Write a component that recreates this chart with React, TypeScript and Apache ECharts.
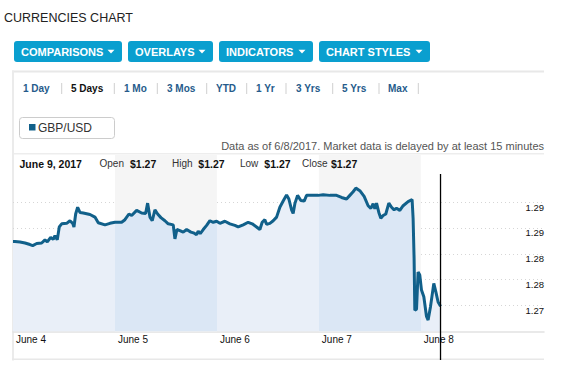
import React, { useEffect, useRef } from "react";
import * as echarts from "echarts";

// ---- data (hours since June 4 00:00, GBP/USD rate) ----
const hours = [
  0.0, 0.47, 1.65, 2.82, 4.0, 4.64, 5.58, 6.75, 7.53, 8.07, 8.87, 9.48, 9.88, 10.42, 10.89, 11.46, 12.64, 13.41, 14.05, 14.35,
  14.75, 15.22, 15.76, 16.54, 18.12, 19.29, 20.07, 21.65, 22.82, 24.0, 25.58, 26.35, 27.29, 27.93, 29.11, 30.28, 31.22, 31.69,
  32.24, 32.78, 33.41, 34.05, 34.82, 35.76, 36.54, 37.72, 38.12, 38.59, 39.29, 40.07, 40.87, 41.88, 42.66, 43.22, 43.6, 44.07,
  44.78, 45.58, 46.35, 47.13, 47.93, 48.71, 49.88, 51.06, 52.24, 53.01, 54.19, 55.36, 56.31, 57.34, 58.12, 58.66, 59.29, 59.69,
  60.47, 61.25, 62.05, 62.82, 63.6, 64.4, 64.94, 65.58, 65.95, 66.35, 66.99, 67.76, 68.54, 69.11, 70.66, 71.84, 73.01, 74.59,
  76.16, 77.34, 78.52, 79.29, 80.07, 80.71, 81.65, 82.66, 83.6, 84.24, 84.78, 85.18, 85.58, 86.12, 86.59, 87.13, 87.76, 88.47,
  89.11, 89.72, 90.28, 91.06, 91.84, 93.01, 93.95, 94.19, 94.42, 94.59, 94.99, 95.36, 95.76, 96.16, 96.71, 97.34, 97.72, 98.28,
  99.06, 99.53, 100.07, 100.64,
];
const rates = [
  1.2849, 1.2849, 1.2848, 1.2846, 1.2843, 1.2841, 1.2845, 1.2846, 1.2852, 1.2848, 1.2857, 1.2853, 1.286, 1.2852, 1.2877, 1.2883,
  1.2884, 1.2889, 1.2884, 1.2877, 1.2902, 1.2915, 1.2905, 1.2904, 1.2901, 1.2896, 1.2885, 1.2881, 1.2884, 1.2886, 1.2886, 1.2891,
  1.2902, 1.2899, 1.2909, 1.2904, 1.2903, 1.2923, 1.2896, 1.2889, 1.291, 1.2902, 1.2895, 1.2889, 1.2883, 1.2881, 1.2854, 1.2872,
  1.287, 1.2867, 1.2872, 1.2867, 1.2865, 1.2862, 1.2869, 1.2864, 1.2872, 1.288, 1.2889, 1.2886, 1.2888, 1.2884, 1.2888, 1.2883,
  1.288, 1.2877, 1.2881, 1.2886, 1.2883, 1.2877, 1.2872, 1.2886, 1.2891, 1.2882, 1.2884, 1.2889, 1.2896, 1.2915, 1.2927, 1.2939,
  1.2931, 1.291, 1.2903, 1.2922, 1.2938, 1.2928, 1.2927, 1.2938, 1.2938, 1.2938, 1.2939, 1.2938, 1.2938, 1.2934, 1.2931, 1.2938,
  1.2945, 1.2952, 1.2947, 1.2936, 1.2918, 1.2913, 1.2922, 1.2912, 1.2923, 1.2905, 1.2894, 1.2899, 1.2902, 1.2923, 1.2915, 1.291,
  1.2913, 1.2909, 1.2918, 1.2926, 1.293, 1.2893, 1.2816, 1.2716, 1.2718, 1.279, 1.2784, 1.2755, 1.2742, 1.2704, 1.2697, 1.2723,
  1.2768, 1.2752, 1.2732, 1.2724,
];
const dayLabels = ["June 4", "June 5", "June 6", "June 7", "June 8"];
const shadedDays = [1, 3]; // June 5 and June 7 columns
const yLabelTicks = [1.2725, 1.2775, 1.2825, 1.2875, 1.2925];
const rangeOptions = ["1 Day", "5 Days", "1 Mo", "3 Mos", "YTD", "1 Yr", "3 Yrs", "5 Yrs", "Max"];
const selectedRange = "5 Days";
const menuButtons = ["COMPARISONS", "OVERLAYS", "INDICATORS", "CHART STYLES"];
const quoteDate = "June 9, 2017";
const quoteLabels = ["Open", "High", "Low", "Close"];
const quoteValues = ["$1.27", "$1.27", "$1.27", "$1.27"];
const seriesName = "GBP/USD";
const noteText = "Data as of 6/8/2017. Market data is delayed by at least 15 minutes";

const FONT = "'Liberation Sans', Arial, Helvetica, sans-serif";
const LINE_COLOR = "#11608a";
const BTN_COLOR = "#0a9fcf";

export default function App() {
  const ref = useRef<HTMLDivElement>(null);

  useEffect(() => {
    if (!ref.current) return;
    const chart = echarts.init(ref.current, undefined, { renderer: "svg" });
    const data = hours.map((h, i) => [h, rates[i]]);

    const graphics: any[] = [];
    graphics.push({
      type: "text", x: 4, y: 18,
      style: { text: "CURRENCIES CHART", fontSize: 12.5, fontFamily: FONT, fill: "#222", verticalAlign: "middle" },
    });
    // menu buttons
    const btnX = [14, 128, 219, 319];
    const btnW = [108, 85, 94, 111];
    menuButtons.forEach((b, i) => {
      const x = btnX[i];
      const w = btnW[i];
      graphics.push({ type: "rect", shape: { x, y: 41, width: w, height: 21, r: 3 }, style: { fill: BTN_COLOR } });
      graphics.push({
        type: "text", x: x + 7, y: 51.5,
        style: { text: b, fontSize: 11, fontWeight: "bold", fontFamily: FONT, fill: "#fff", verticalAlign: "middle" },
      });
      const tx = x + w - 11;
      graphics.push({
        type: "polygon", shape: { points: [[tx - 3.5, 49.8], [tx + 3.5, 49.8], [tx, 53.5]] }, style: { fill: "#fff" },
      });
    });
    // panel frame
    graphics.push({ type: "rect", shape: { x: 12, y: 70.5, width: 532, height: 2 }, style: { fill: "#e8e8e8" } });
    graphics.push({ type: "rect", shape: { x: 12, y: 70.5, width: 2, height: 290 }, style: { fill: "#ebebeb" } });
    graphics.push({ type: "rect", shape: { x: 12, y: 358.5, width: 532, height: 1.5 }, style: { fill: "#e8e8e8" } });
    // range row
    const rangeX = [23, 71, 124, 167, 216, 256, 296, 342, 388];
    const sepX = [61.7, 114.3, 157.3, 206.7, 246.7, 286, 332.7, 379, 418.3];
    rangeOptions.forEach((r, i) => {
      graphics.push({
        type: "text", x: rangeX[i], y: 88.5,
        style: {
          text: r, fontSize: 10, fontWeight: "bold", fontFamily: FONT,
          fill: r === selectedRange ? "#111" : "#265b8b", verticalAlign: "middle",
        },
      });
      graphics.push({ type: "line", shape: { x1: sepX[i], y1: 83, x2: sepX[i], y2: 94 }, style: { stroke: "#cfcfcf", lineWidth: 1 } });
    });
    // legend box
    graphics.push({
      type: "rect", shape: { x: 19.5, y: 117.5, width: 95, height: 21, r: 3 },
      style: { fill: "#fff", stroke: "#cccccc", lineWidth: 1 },
    });
    graphics.push({ type: "rect", shape: { x: 29, y: 124, width: 6.5, height: 6.5 }, style: { fill: LINE_COLOR } });
    graphics.push({
      type: "text", x: 38, y: 127.5,
      style: { text: seriesName, fontSize: 12, fontFamily: FONT, fill: "#333", verticalAlign: "middle" },
    });
    graphics.push({
      type: "text", x: 544, y: 145.5,
      style: { text: noteText, fontSize: 11, fontFamily: FONT, fill: "#555", align: "right", verticalAlign: "middle" },
    });
    graphics.push({ type: "rect", shape: { x: 14, y: 153, width: 530, height: 1.5 }, style: { fill: "#ededed" } });
    // quote row
    graphics.push({
      type: "text", x: 19.5, y: 163.5, z: 10,
      style: { text: quoteDate, fontSize: 10.5, fontWeight: "bold", fontFamily: FONT, fill: "#111", verticalAlign: "middle" },
    });
    const qLabelX = [99.5, 172, 240, 302];
    const qValX = [130, 198.3, 264.3, 331];
    quoteLabels.forEach((q, i) => {
      graphics.push({
        type: "text", x: qLabelX[i], y: 163.5, z: 10,
        style: { text: q, fontSize: 10, fontFamily: FONT, fill: "#333", verticalAlign: "middle" },
      });
      graphics.push({
        type: "text", x: qValX[i], y: 163.5, z: 10,
        style: { text: quoteValues[i], fontSize: 10.5, fontWeight: "bold", fontFamily: FONT, fill: "#111", verticalAlign: "middle" },
      });
    });

    const white = "#e9eff8";
    const blue = "#dbe7f5";
    const pieces: any[] = [];
    for (let d = 0; d < 6; d++) {
      const shaded = shadedDays.indexOf(d) >= 0;
      const p: any = { gte: d * 24, color: shaded ? blue : white };
      if (d < 5) p.lt = (d + 1) * 24;
      pieces.push(p);
    }

    const option: any = {
      animation: false,
      grid: { left: 13, right: 29, top: 155, bottom: 57.5, containLabel: false },
      xAxis: {
        type: "value", min: 0, max: 125, interval: 24,
        axisLine: { show: true, lineStyle: { color: "#e2e2e2", width: 1.5 } },
        axisTick: { show: false },
        splitLine: { show: false },
        axisLabel: {
          margin: 3, align: "left", padding: [0, 0, 0, 3], fontSize: 10, fontFamily: FONT, color: "#111",
          formatter: (v: number) => {
            const i = Math.round(v / 24);
            return Math.abs(v - i * 24) < 1e-6 && i < dayLabels.length ? dayLabels[i] : "";
          },
        },
      },
      yAxis: {
        type: "value", position: "right", min: 1.2675, max: 1.3016, interval: 0.005,
        axisLine: { show: false }, axisTick: { show: false },
        axisLabel: {
          inside: true, margin: 0, fontSize: 9.5, fontFamily: FONT, color: "#111", verticalAlign: "top",
          padding: [0, 0, 0, 0],
          formatter: (v: number) => {
            const ok = yLabelTicks.some((t) => Math.abs(t - v) < 1e-6);
            return ok ? (Math.round(v * 100 + 1e-6) / 100).toFixed(2) : "";
          },
        },
        splitLine: {
          show: true, showMinLine: false, showMaxLine: false,
          lineStyle: { type: [1, 3], width: 1, color: ["#d6d6d6", "#d6d6d6", "#d6d6d6", "#d6d6d6", "#d6d6d6", "rgba(0,0,0,0)"] },
        },
      },
      visualMap: { show: false, type: "piecewise", seriesIndex: 0, dimension: 0, pieces },
      series: [
        {
          type: "line", data, showSymbol: false, z: 2, silent: true,
          lineStyle: { width: 0, opacity: 0 },
          areaStyle: { opacity: 1, origin: "start" },
          markArea: {
            silent: true, z: 1,
            itemStyle: { color: "#f5f5f5" },
            data: shadedDays.map((d) => [{ xAxis: d * 24 }, { xAxis: (d + 1) * 24 }]),
          },
        },
        {
          type: "line", data, showSymbol: false, z: 3, silent: true,
          lineStyle: { color: LINE_COLOR, width: 3 },
        },
      ],
      graphic: { elements: graphics },
    };
    chart.setOption(option);

    const last = data[data.length - 1];
    const p = chart.convertToPixel({ gridIndex: 0 }, last) as number[];
    if (p && isFinite(p[0])) {
      graphics.push({
        type: "line", z: 20, shape: { x1: p[0], y1: 174, x2: p[0], y2: 360 },
        style: { stroke: "#000", lineWidth: 1.3 },
      });
      chart.setOption({ graphic: { elements: graphics } });
    }

    return () => chart.dispose();
  }, []);

  return (
    <div
      ref={ref}
      style={{ position: "fixed", left: 0, top: 0, width: 573, height: 389, background: "#fff" }}
    />
  );
}
